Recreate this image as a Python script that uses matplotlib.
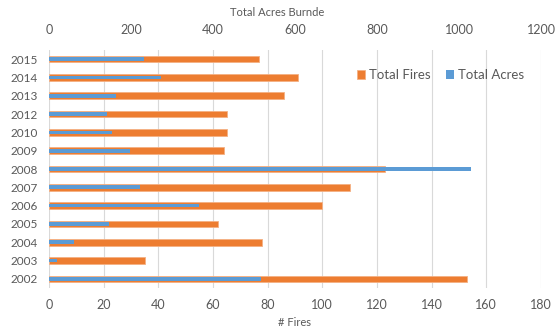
import numpy as np
import matplotlib.pyplot as plt

years = ['2002', '2003', '2004', '2005', '2006', '2007', '2008',
         '2009', '2010', '2012', '2013', '2014', '2015']
total_fires = [153, 35, 78, 62, 100, 110, 123, 64, 65, 65, 86, 91, 77]
total_acres = [517, 20, 60, 146, 366, 223, 1029, 198, 153, 142, 163, 274, 231]

orange = '#ED7D31'
blue = '#5B9BD5'
txt = '#595959'

plt.rcParams['font.family'] = ['Lato', 'DejaVu Sans']

fig = plt.figure(figsize=(5.55, 3.32), dpi=100)
ax = fig.add_axes([49 / 555, 1 - 288 / 332, 492 / 555, 238 / 332])
y_pos = np.arange(len(years))

ax.barh(y_pos, total_fires, height=0.36, color=orange, edgecolor='#F4B183',
        linewidth=0.6, label='Total Fires', zorder=2)
ax.set_xlim(0, 180)
ax.set_xticks(np.arange(0, 181, 20))
ax.set_ylim(-0.5, len(years) - 0.5)
ax.set_yticks(y_pos, years)
ax.grid(axis='x', color='#D9D9D9', linewidth=0.8, zorder=0)
ax.set_axisbelow(True)
ax.set_xlabel('# Fires', color=txt, fontsize=8, labelpad=4)

# second scale on top for acres
ax2 = ax.twiny()
ax2.barh(y_pos, total_acres, height=0.2, color=blue, label='Total Acres', zorder=3)
ax2.set_xlim(0, 1200)
ax2.set_xticks(np.arange(0, 1201, 200))
ax2.set_xlabel('Total Acres Burnde', color=txt, fontsize=8, labelpad=6, x=0.463)

for a in (ax, ax2):
    for s in a.spines.values():
        s.set_visible(False)
    a.tick_params(length=0, colors=txt, labelsize=9, pad=10)
ax.tick_params(axis='x', pad=8)
ax.tick_params(axis='y', pad=8, labelsize=8.5)

h1, l1 = ax.get_legend_handles_labels()
h2, l2 = ax2.get_legend_handles_labels()
ax2.legend(h1 + h2, l1 + l2, loc='upper right', bbox_to_anchor=(0.99, 0.97),
           ncol=2, frameon=False, fontsize=9.5, handlelength=0.6, handleheight=0.6,
           handletextpad=0.3, columnspacing=1.2, labelcolor=txt)

plt.savefig('out.png', dpi=100)
